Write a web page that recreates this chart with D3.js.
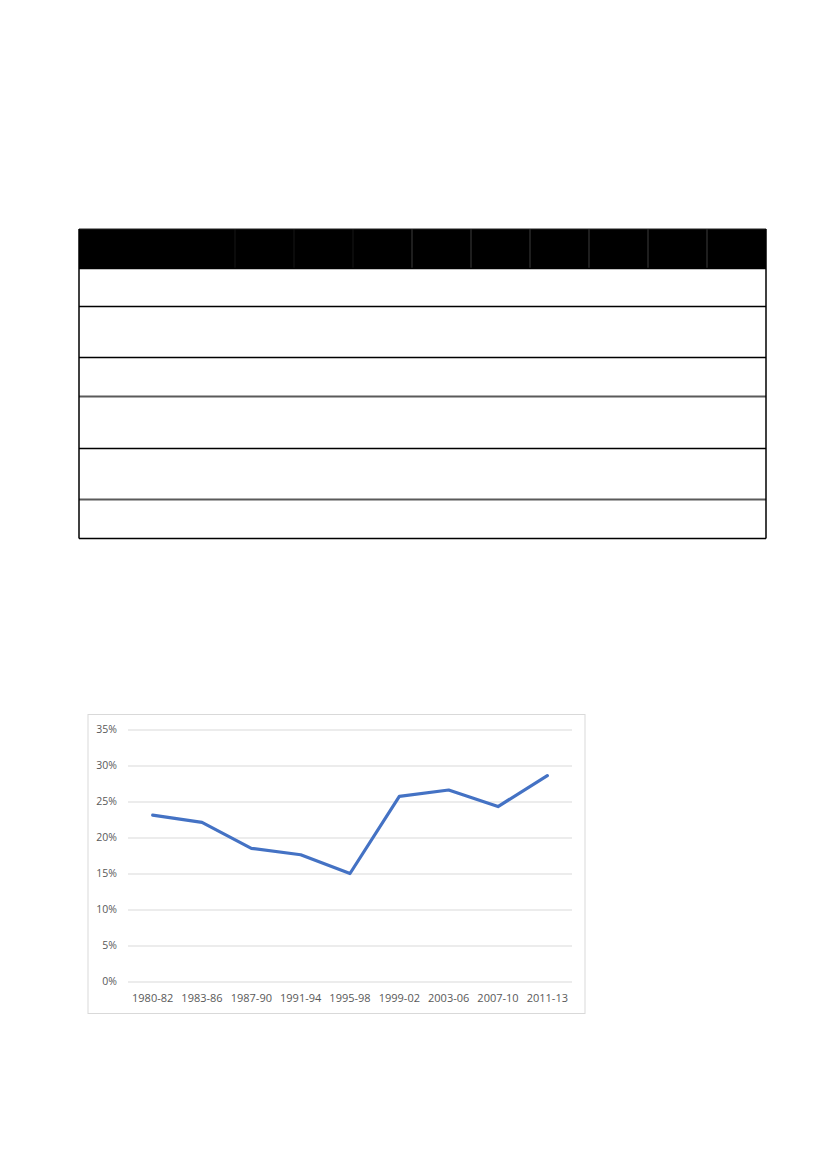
<!DOCTYPE html>
<html>
<head>
<meta charset="utf-8">
<script src="https://cdn.jsdelivr.net/npm/d3@7"></script>
<style>
	body { margin: 0; background: #fff; }
</style>
</head>
<body>
<div class="chart"></div>
<script>
var width = 827;
var height = 1170;

// periods (also the table's period columns)
var periods = ['1980-82', '1983-86', '1987-90', '1991-94', '1995-98', '1999-02', '2003-06', '2007-10', '2011-13'];
// share per period
var share = [0.231, 0.221, 0.185, 0.176, 0.150, 0.257, 0.266, 0.243, 0.286];
var y_ticks = [0, 0.05, 0.10, 0.15, 0.20, 0.25, 0.30, 0.35];
// table: first column holds the row names, the rest one per period (text is blank in the picture)
var table_columns = [''].concat(periods);
var table_rows = ['', '', '', '', '', ''];

var chart_svg;

function draw() {
	chart_svg = d3.select(".chart")
		.append("svg")
		.attr("width", width)
		.attr("height", height);

	chart_svg.append("rect")
		.attr("width", width)
		.attr("height", height)
		.style("fill", "#fff");

	draw_table();
	draw_line_chart();
}

function draw_table() {
	let left = 79, right = 766, top = 229;
	let header_h = 39.5;
	let row_h = [38, 51, 39, 52, 51, 39];
	// which row separators come out grey and a bit heavier
	let grey_lines = [false, false, false, true, false, true, false];

	// first column (row names) is wide, the period columns share the rest
	let x = d3.scaleBand()
		.domain(table_columns.slice(1))
		.range([235, right]);

	let g = chart_svg.append("g").attr("class", "table");

	g.append("rect")
		.attr("x", left)
		.attr("y", top)
		.attr("width", right - left)
		.attr("height", header_h)
		.style("fill", "#000");

	// header column dividers
	g.selectAll("line.hcol")
		.data(table_columns.slice(1))
		.enter()
		.append("line")
		.attr("class", "hcol")
		.attr("x1", function(d) { return x(d); })
		.attr("x2", function(d) { return x(d); })
		.attr("y1", top)
		.attr("y2", top + header_h)
		.attr("stroke", function(d, i) { return i < 3 ? "#161616" : "#3c3c3c"; })
		.attr("stroke-width", 1);

	let ys = [top + header_h];
	let acc = top + header_h;
	table_rows.forEach(function(r, i) {
		acc += row_h[i];
		ys.push(acc);
	});

	g.selectAll("line.row")
		.data(ys)
		.enter()
		.append("line")
		.attr("class", "row")
		.attr("x1", left)
		.attr("x2", right)
		.attr("y1", function(d) { return d; })
		.attr("y2", function(d) { return d; })
		.attr("stroke", function(d, i) { return grey_lines[i] ? "#5a5a5a" : "#000"; })
		.attr("stroke-width", function(d, i) { return grey_lines[i] ? 2 : 1.3; });

	g.append("line")
		.attr("x1", left).attr("x2", right)
		.attr("y1", top).attr("y2", top)
		.attr("stroke", "#222").attr("stroke-width", 1);

	[left, right].forEach(function(xx) {
		g.append("line")
			.attr("x1", xx).attr("x2", xx)
			.attr("y1", top).attr("y2", acc)
			.attr("stroke", "#000")
			.attr("stroke-width", 1.5);
	});
}

function draw_line_chart() {
	let g = chart_svg.append("g").attr("class", "line_chart");

	// chart area frame
	g.append("rect")
		.attr("x", 88)
		.attr("y", 714.5)
		.attr("width", 497)
		.attr("height", 299)
		.style("fill", "#fff")
		.style("stroke", "#d9d9d9")
		.style("stroke-width", 1);

	let x = d3.scaleBand()
		.domain(periods)
		.range([128, 572]);
	let y = d3.scaleLinear()
		.domain([0, 0.35])
		.range([981.5, 729.5]);

	let y_axis = g.append("g")
		.attr("transform", "translate(128,0)")
		.call(d3.axisLeft(y)
			.tickValues(y_ticks)
			.tickSize(-444)
			.tickPadding(11)
			.tickFormat(d3.format(".0%")));
	y_axis.select(".domain").remove();
	y_axis.selectAll(".tick line").attr("stroke", "#d9d9d9");
	y_axis.selectAll(".tick text")
		.attr("fill", "#595959")
		.attr("font-family", "'Open Sans', sans-serif")
		.attr("font-size", "10.5px");

	let x_axis = g.append("g")
		.attr("transform", "translate(0,981.5)")
		.call(d3.axisBottom(x).tickSize(0).tickPadding(12.5));
	x_axis.select(".domain").remove();
	x_axis.selectAll(".tick text")
		.attr("fill", "#595959")
		.attr("font-family", "'Open Sans', sans-serif")
		.attr("font-size", "11px");

	let line = d3.line()
		.x(function(d, i) { return x(periods[i]) + x.bandwidth() / 2; })
		.y(function(d) { return y(d); });

	g.append("path")
		.datum(share)
		.attr("d", line)
		.attr("fill", "none")
		.attr("stroke", "#4472c4")
		.attr("stroke-width", 3.2)
		.attr("stroke-linejoin", "round")
		.attr("stroke-linecap", "round");
}

draw();
</script>
</body>
</html>
